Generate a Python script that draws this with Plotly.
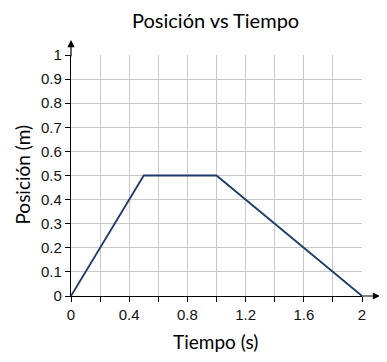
import plotly.graph_objects as go

tiempo = [0, 0.5, 1.0, 2.0]
posicion = [0, 0.5, 0.5, 0]

x_ticks = [0, 0.2, 0.4, 0.6, 0.8, 1.0, 1.2, 1.4, 1.6, 1.8, 2.0]
x_labels = ["0", "", "0.4", "", "0.8", "", "1.2", "", "1.6", "", "2"]
y_ticks = [0, 0.1, 0.2, 0.3, 0.4, 0.5, 0.6, 0.7, 0.8, 0.9, 1.0]
y_labels = ["0", "0.1", "0.2", "0.3", "0.4", "0.5", "0.6", "0.7", "0.8", "0.9", "1"]

title_text = "Posición vs Tiempo"
x_title = "Tiempo (s)"
y_title = "Posición (m)"

fig = go.Figure()
fig.add_trace(go.Scatter(x=tiempo, y=posicion, mode="lines",
                         line=dict(color="#1f3b6b", width=1.8), showlegend=False,
                         cliponaxis=False))

# page has an 8px body margin; figure is placed at (8,8)
fig.update_layout(
    width=379, height=354,
    margin=dict(l=63, r=25, t=47, b=66, autoexpand=False),
    paper_bgcolor="white", plot_bgcolor="white",
    xaxis=dict(range=[0, 2], tickvals=x_ticks, ticktext=x_labels, automargin=False,
               showgrid=True, gridcolor="#c8c8c8", gridwidth=1,
               showline=True, linecolor="black", linewidth=1.2,
               ticks="outside", ticklen=5, tickcolor="black", zeroline=False,
               tickfont=dict(family="Liberation Sans, Arial", size=15, color="#111")),
    yaxis=dict(range=[0, 1], tickvals=y_ticks, ticktext=y_labels, automargin=False,
               showgrid=True, gridcolor="#c8c8c8", gridwidth=1,
               showline=True, linecolor="black", linewidth=1.2,
               ticks="outside", ticklen=5, tickcolor="black", zeroline=False,
               tickfont=dict(family="Liberation Sans, Arial", size=15, color="#111")),
)

tfont = dict(family="Lato", color="black")
fig.add_annotation(xref="paper", yref="paper", x=0.498, y=1.145, text=title_text,
                   showarrow=False, xanchor="center", yanchor="middle",
                   font=dict(size=20, **tfont))
fig.add_annotation(xref="paper", yref="paper", x=0.498, y=-0.19, text=x_title,
                   showarrow=False, xanchor="center", yanchor="middle",
                   font=dict(size=19, **tfont))
fig.add_annotation(xref="paper", yref="paper", x=-0.17, y=0.502, text=y_title,
                   showarrow=False, xanchor="center", yanchor="middle", textangle=-90,
                   font=dict(size=19, **tfont))

# axis arrows
fig.add_annotation(xref="paper", yref="paper", x=0, y=1.062, ax=0, ay=18,
                   showarrow=True, arrowhead=2, arrowsize=1.2, arrowwidth=1.2,
                   arrowcolor="black", text="")
fig.add_annotation(xref="paper", yref="paper", x=1.062, y=0, ax=-20, ay=0,
                   showarrow=True, arrowhead=2, arrowsize=1.2, arrowwidth=1.2,
                   arrowcolor="black", text="")

fig.write_html("out.html")
